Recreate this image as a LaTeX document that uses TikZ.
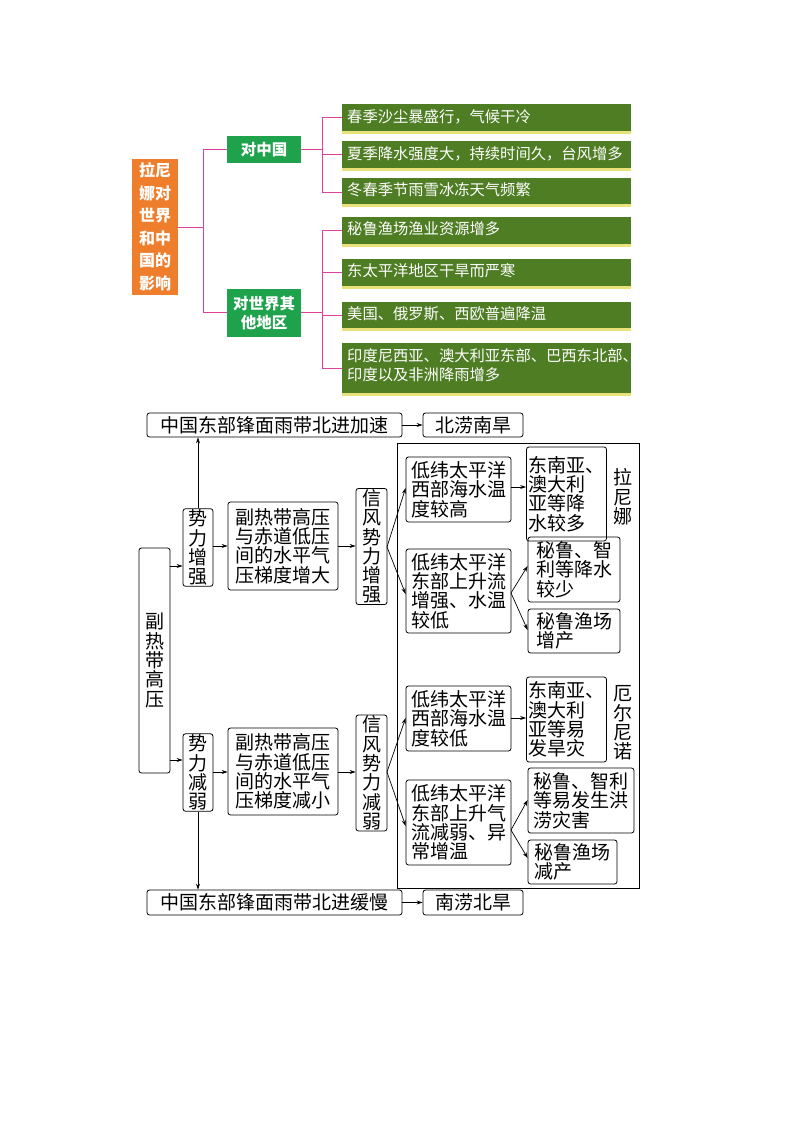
\documentclass[tikz,border=0pt]{standalone}
\usepackage{fontspec}
\newfontfamily\cjk{Noto Sans CJK SC}
\usetikzlibrary{arrows.meta}
\definecolor{dgreen}{HTML}{4E7D23}
\definecolor{mgreen}{HTML}{1FA24C}
\definecolor{orng}{HTML}{EE7D2C}
\definecolor{pnk}{HTML}{E0409E}
\definecolor{ylw}{HTML}{E9E27A}
\tikzset{
 gbox/.style={text=white,inner sep=4pt,anchor=north west,align=left,font=\cjk\fontsize{15.3}{19}\selectfont},
 mbox/.style={fill=mgreen,text=white,inner sep=0pt,align=center,font=\cjk\bfseries\fontsize{15.5}{19}\selectfont},
 obox/.style={fill=orng,text=white,inner sep=0pt,align=center,font=\cjk\bfseries\fontsize{16}{22.5}\selectfont},
 pl/.style={pnk,line width=1pt},
 bx/.style={draw,rounded corners=2.5pt,line width=0.8pt,inner sep=3pt,align=left,font=\cjk\fontsize{19}{19.3}\selectfont},
 ar/.style={-{Stealth[length=6pt,width=4pt]},line width=0.7pt},
}
\newcommand{\gb}[5]{% name, x1,y1,x2,y2
 \fill[ylw] (#2,#5) rectangle (#4,#5+3);
 \fill[dgreen] (#2,#3) rectangle (#4,#5);
}
\begin{document}
\begin{tikzpicture}[x=1pt,y=-1pt]
\useasboundingbox (0,0) rectangle (800,1132);
% ---------- top ----------
\draw[pl] (178,227) -- (203,227);
\draw[pl] (203,149) -- (203,312);
\draw[pl] (203,149) -- (227,149);
\draw[pl] (203,312) -- (227,312);
\draw[pl] (301,149) -- (322,149);
\draw[pl] (322,117) -- (322,192);
\draw[pl] (301,312) -- (322,312);
\draw[pl] (322,230) -- (322,368);
\foreach \y in {117,154,192} \draw[pl] (322,\y) -- (342,\y);
\foreach \y in {230,272,315,368} \draw[pl] (322,\y) -- (342,\y);
\node[obox,minimum width=46pt,minimum height=136pt] (o) at (155,227) {拉尼\\娜对\\世界\\和中\\国的\\影响};
\node[mbox,minimum width=74pt,minimum height=27pt] (c) at (264,149.5) {对中国};
\node[mbox,minimum width=74pt,minimum height=48pt] (w) at (264,313) {对世界其\\他地区};
\gb{a}{342}{104}{631}{131}
\gb{b}{342}{141}{631}{168}
\gb{c}{342}{178}{631}{204}
\gb{d}{342}{217}{631}{244}
\gb{e}{342}{259}{631}{286}
\gb{f}{342}{302}{631}{328}
\gb{g}{342}{343}{631}{393}
\node[gbox] (t1) at (343,105) {春季沙尘暴盛行，气候干冷};
\node[gbox] (t2) at (343,142) {夏季降水强度大，持续时间久，台风增多};
\node[gbox] (t3) at (343,178) {冬春季节雨雪冰冻天气频繁};
\node[gbox] (t4) at (343,217) {秘鲁渔场渔业资源增多};
\node[gbox] (t5) at (343,259) {东太平洋地区干旱而严寒};
\node[gbox] (t6) at (343,302) {美国、俄罗斯、西欧普遍降温};
\node[gbox] (t7) at (343,344) {印度尼西亚、澳大利亚东部、巴西东北部、\\印度以及非洲降雨增多};
% ---------- bottom ----------
\draw[line width=0.8pt] (397,443) rectangle (639,888);
\node[bx,align=center,minimum width=255pt,minimum height=24pt] (tt) at (274.5,425) {中国东部锋面雨带北进加速};
\node[bx,align=center,minimum width=100pt,minimum height=24pt] (tr) at (473,425) {北涝南旱};
\node[bx,align=center,minimum width=255pt,minimum height=25pt] (bt) at (274.5,902.5) {中国东部锋面雨带北进缓慢};
\node[bx,align=center,minimum width=100pt,minimum height=25pt] (br) at (473,902.5) {南涝北旱};
\node[bx,align=center,minimum width=31pt,minimum height=225pt,inner sep=1pt] (fr) at (154.5,660.5) {副\\热\\带\\高\\压};
\node[bx,align=center,minimum width=30pt,minimum height=71pt,inner sep=1pt] (s1) at (198,547.5) {势\\力\\增\\强};
\node[bx,align=center,minimum width=30pt,minimum height=71pt,inner sep=1pt] (s2) at (198,772.5) {势\\力\\减\\弱};
\node[bx,minimum width=110pt,minimum height=88pt] (p1) at (283,546) {副热带高压\\与赤道低压\\间的水平气\\压梯度增大};
\node[bx,minimum width=110pt,minimum height=87pt] (p2) at (283,771.5) {副热带高压\\与赤道低压\\间的水平气\\压梯度减小};
\node[bx,align=center,minimum width=31pt,minimum height=101pt,inner sep=1pt] (x1) at (371.5,546.5) {信\\风\\势\\力\\增\\强};
\node[bx,align=center,minimum width=31pt,minimum height=102pt,inner sep=1pt] (x2) at (371.5,773) {信\\风\\势\\力\\减\\弱};
\node[bx,minimum width=105pt,minimum height=65pt] (l1) at (458.5,489.5) {低纬太平洋\\西部海水温\\度较高};
\node[bx,minimum width=105pt,minimum height=84pt] (l2) at (458.5,591) {低纬太平洋\\东部上升流\\增强、水温\\较低};
\node[bx,minimum width=105pt,minimum height=65pt] (l3) at (458.5,718.5) {低纬太平洋\\西部海水温\\度较低};
\node[bx,minimum width=105pt,minimum height=85pt] (l4) at (458.5,822.5) {低纬太平洋\\东部上升气\\流减弱、异\\常增温};
\node[bx,minimum width=77pt,minimum height=94pt,inner sep=2pt] (r1) at (566.5,494) {东南亚、\\澳大利\\亚等降\\水较多};
\node[bx,minimum width=92pt,minimum height=65pt] (r2) at (574,569.5) {秘鲁、智\\利等降水\\较少};
\node[bx,minimum width=92pt,minimum height=44pt] (r3) at (574,631) {秘鲁渔场\\增产};
\node[bx,minimum width=77pt,minimum height=85pt,inner sep=2pt] (r4) at (566.5,719.5) {东南亚、\\澳大利\\亚等易\\发旱灾};
\node[bx,minimum width=106pt,minimum height=65pt] (r5) at (581,800.5) {秘鲁、智利\\等易发生洪\\涝灾害};
\node[bx,minimum width=89pt,minimum height=44pt] (r6) at (572.5,862) {秘鲁渔场\\减产};
\node[align=center,inner sep=0pt,font=\cjk\fontsize{19}{19.3}\selectfont] (ln) at (623,497) {拉\\尼\\娜};
\node[align=center,inner sep=0pt,font=\cjk\fontsize{19}{19.3}\selectfont] (en) at (623,723) {厄\\尔\\尼\\诺};
% arrows
\draw[ar] (tt.east) -- (tr.west);
\draw[ar] (bt.east) -- (br.west);
\draw[ar] (fr.east |- 0,566) -- (s1.west |- 0,566);
\draw[ar] (fr.east |- 0,760) -- (s2.west |- 0,760);
\draw[ar] (s1.north) -- (tt.south -| s1.north);
\draw[ar] (s2.south) -- (bt.north -| s2.south);
\draw[ar] (s1.east |- 0,546) -- (p1.west |- 0,546);
\draw[ar] (s2.east |- 0,772) -- (p2.west |- 0,772);
\draw[ar] (p1.east |- 0,546) -- (x1.west |- 0,546);
\draw[ar] (p2.east |- 0,772) -- (x2.west |- 0,772);
\coordinate (x1o) at (387,547);
\coordinate (x2o) at (387,772);
\draw[ar] (x1o) -- (l1.west |- 0,488);
\draw[ar] (x1o) -- (l2.west |- 0,594);
\draw[ar] (x2o) -- (l3.west |- 0,718);
\draw[ar] (x2o) -- (l4.west |- 0,826);
\draw[ar] (l1.east |- 0,487) -- (r1.west |- 0,487);
\draw[ar] (l3.east |- 0,718) -- (r4.west |- 0,718);
\coordinate (l2o) at (511,593);
\coordinate (l4o) at (511,830);
\draw[ar] (l2o) -- (r2.west |- 0,566);
\draw[ar] (l2o) -- (r3.west |- 0,630);
\draw[ar] (l4o) -- (r5.west |- 0,800);
\draw[ar] (l4o) -- (r6.west |- 0,858);
\end{tikzpicture}
\end{document}
